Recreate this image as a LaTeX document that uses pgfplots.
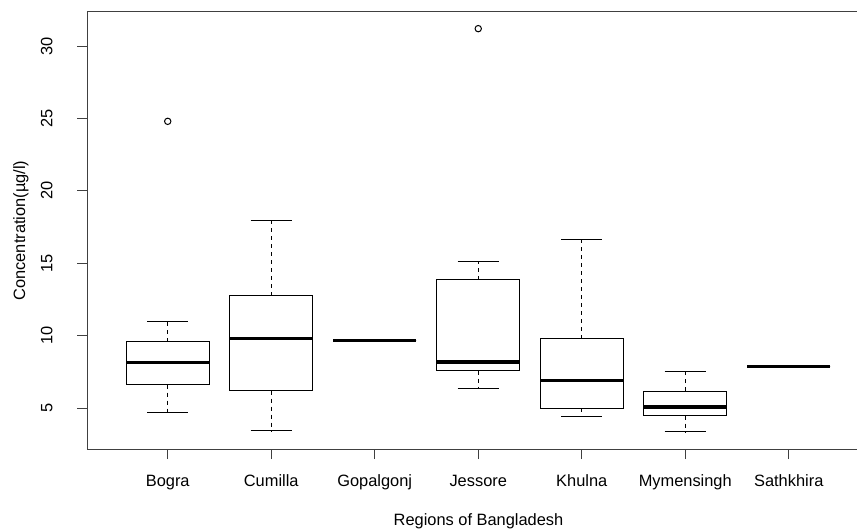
\documentclass[border=0pt]{standalone}
\usepackage{fontspec}
\setmainfont{Liberation Sans}
\usepackage{pgfplots}
\pgfplotsset{compat=1.18}
\usepgfplotslibrary{statistics}
\pgfplotsset{
  /pgfplots/boxplot/draw/lower whisker/.code={%
    \draw[/pgfplots/boxplot/every whisker/.try, dash pattern=on 3pt off 3pt]
      (boxplot cs:\pgfkeysvalueof{/pgfplots/boxplot/lower quartile}) -- (boxplot cs:\pgfkeysvalueof{/pgfplots/boxplot/lower whisker});
    \draw[/pgfplots/boxplot/every whisker/.try]
      (boxplot whisker cs:\pgfkeysvalueof{/pgfplots/boxplot/lower whisker},0) -- (boxplot whisker cs:\pgfkeysvalueof{/pgfplots/boxplot/lower whisker},1);
  },
  /pgfplots/boxplot/draw/upper whisker/.code={%
    \draw[/pgfplots/boxplot/every whisker/.try, dash pattern=on 3pt off 3pt]
      (boxplot cs:\pgfkeysvalueof{/pgfplots/boxplot/upper quartile}) -- (boxplot cs:\pgfkeysvalueof{/pgfplots/boxplot/upper whisker});
    \draw[/pgfplots/boxplot/every whisker/.try]
      (boxplot whisker cs:\pgfkeysvalueof{/pgfplots/boxplot/upper whisker},0) -- (boxplot whisker cs:\pgfkeysvalueof{/pgfplots/boxplot/upper whisker},1);
  },
}
\begin{document}
\begin{tikzpicture}[font=\fontsize{12.3}{14}\selectfont]
\begin{axis}[
  at={(65.25pt,60pt)}, anchor=south west,
  scale only axis, width=587.25pt, height=327.75pt,
  xmin=0.22, xmax=7.785, ymin=2.17, ymax=32.35,
  axis line style={black!75, line width=0.75pt},
  xtick={1,2,3,4,5,6,7},
  xticklabels={Bogra,Cumilla,Gopalgonj,Jessore,Khulna,Mymensingh,Sathkhira},
  ytick={5,10,15,20,25,30},
  tick pos=left, tick align=outside, major tick length=7.5pt,
  tick style={black!75, line width=0.75pt},
  /pgf/number format/assume math mode=true,
  xticklabel style={anchor=base, yshift=-20.5pt},
  yticklabel style={rotate=90, anchor=base, yshift=18.5pt},
  xlabel={Regions of Bangladesh},
  ylabel={Concentration(µg/l)},
  xlabel style={at={(axis description cs:0.5,0)}, anchor=base, yshift=-57pt},
  ylabel style={at={(axis description cs:0,0.5)}, anchor=center, yshift=49.5pt},
  boxplot/draw direction=y,
  boxplot/box extend=0.8,
  boxplot/whisker extend=0.4,
  boxplot/every box/.style={draw=black, line width=0.75pt},
  boxplot/every whisker/.style={draw=black, line width=0.75pt},
  boxplot/every median/.style={draw=black, line width=2.4pt},
  clip=false,
]
\addplot[black, mark=o, mark size=2.4pt, mark options={solid, line width=0.75pt},
  boxplot prepared={draw position=1, lower whisker=4.70, lower quartile=6.61, median=8.13, upper quartile=9.58, upper whisker=10.96}]
  table[row sep=\\, y index=0] {24.8\\};
\addplot[black, mark=o, mark size=2.4pt, mark options={solid, line width=0.75pt},
  boxplot prepared={draw position=2, lower whisker=3.43, lower quartile=6.20, median=9.79, upper quartile=12.76, upper whisker=17.98}]
  coordinates {};
\addplot[black, mark=o, mark size=2.4pt, mark options={solid, line width=0.75pt},
  boxplot prepared={draw position=3, lower whisker=9.65, lower quartile=9.65, median=9.65, upper quartile=9.65, upper whisker=9.65}]
  coordinates {};
\addplot[black, mark=o, mark size=2.4pt, mark options={solid, line width=0.75pt},
  boxplot prepared={draw position=4, lower whisker=6.38, lower quartile=7.58, median=8.18, upper quartile=13.86, upper whisker=15.13}]
  table[row sep=\\, y index=0] {31.2\\};
\addplot[black, mark=o, mark size=2.4pt, mark options={solid, line width=0.75pt},
  boxplot prepared={draw position=5, lower whisker=4.40, lower quartile=4.98, median=6.91, upper quartile=9.79, upper whisker=16.67}]
  coordinates {};
\addplot[black, mark=o, mark size=2.4pt, mark options={solid, line width=0.75pt},
  boxplot prepared={draw position=6, lower whisker=3.36, lower quartile=4.47, median=5.07, upper quartile=6.17, upper whisker=7.51}]
  coordinates {};
\addplot[black, mark=o, mark size=2.4pt, mark options={solid, line width=0.75pt},
  boxplot prepared={draw position=7, lower whisker=7.85, lower quartile=7.85, median=7.85, upper quartile=7.85, upper whisker=7.85}]
  coordinates {};
\end{axis}
\pgfresetboundingbox
\path[use as bounding box] (0,0) rectangle (642.75pt,396.75pt);
\end{tikzpicture}
\end{document}
